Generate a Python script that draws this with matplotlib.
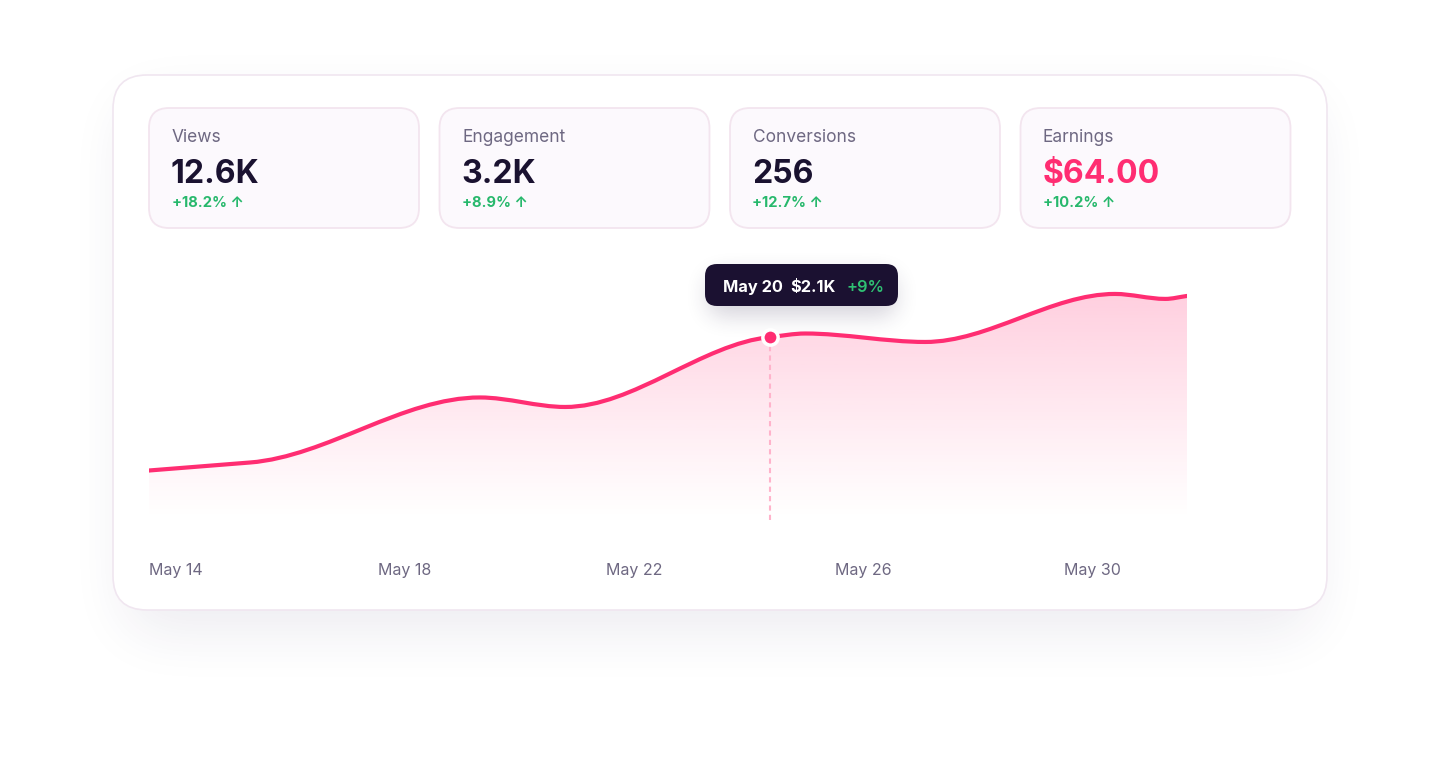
import numpy as np
import matplotlib.pyplot as plt
from matplotlib.patches import FancyBboxPatch, PathPatch
from matplotlib.path import Path

plt.rcParams['font.family'] = ['Inter', 'DejaVu Sans']

# stat cards
stat_labels = ['Views', 'Engagement', 'Conversions', 'Earnings']
stat_values = ['12.6K', '3.2K', '256', '$64.00']
stat_changes = ['+18.2%', '+8.9%', '+12.7%', '+10.2%']

# earnings curve (x = days after May 14, y = $K)
days = [0.0, 1.77, 5.79, 7.28, 10.87, 11.48, 13.58, 16.90, 17.78, 18.16]
earnings_k = [0.568, 0.660, 1.406, 1.297, 2.100, 2.140, 2.043, 2.594, 2.537, 2.571]
tick_days = [0, 4, 8, 12, 16]
tick_labels = ['May 14', 'May 18', 'May 22', 'May 26', 'May 30']

hl_index = 4
tooltip_date = 'May 20'
tooltip_value = '$2.1K'
tooltip_change = '+9%'

PINK = '#ff2d72'
GREEN = '#27b86c'
DARK = '#1a1230'
GREY = '#6e6882'
W, H = 1440, 761


def box_blur(a, r, axis):
    a = np.moveaxis(a, axis, -1)
    p = np.pad(a, [(0, 0), (r + 1, r)], mode='edge')
    c = np.cumsum(p, axis=-1)
    out = (c[:, 2 * r + 1:] - c[:, :-(2 * r + 1)]) / (2 * r + 1)
    return np.moveaxis(out, -1, axis)


def soft_shadow(x0, y0, x1, y1, rad, blur, passes=3):
    yy, xx = np.mgrid[0:H, 0:W] + 0.5
    cx, cy = (x0 + x1) / 2, (y0 + y1) / 2
    qx = np.maximum(np.abs(xx - cx) - ((x1 - x0) / 2 - rad), 0)
    qy = np.maximum(np.abs(yy - cy) - ((y1 - y0) / 2 - rad), 0)
    m = (np.hypot(qx, qy) <= rad).astype(float)
    for _ in range(passes):
        m = box_blur(m, blur, 0)
        m = box_blur(m, blur, 1)
    return m


def shadow_rgba(mask, rgb, alpha):
    img = np.zeros((H, W, 4))
    img[..., :3] = np.array(rgb) / 255
    img[..., 3] = mask * alpha
    return img


def smooth_path(x, y):
    # cubic hermite through the points, flat at turning points
    x = np.asarray(x, float)
    y = np.asarray(y, float)
    h = np.diff(x)
    d = np.diff(y) / h
    m = np.zeros_like(y)
    m[0], m[-1] = d[0], d[-1]
    for k in range(1, len(x) - 1):
        if d[k - 1] * d[k] > 0:
            m[k] = np.sign(d[k]) * min(abs(d[k - 1]), abs(d[k]))
    verts = [(x[0], y[0])]
    codes = [Path.MOVETO]
    for i in range(len(x) - 1):
        verts += [(x[i] + h[i] / 3, y[i] + m[i] * h[i] / 3),
                  (x[i + 1] - h[i] / 3, y[i + 1] - m[i + 1] * h[i] / 3),
                  (x[i + 1], y[i + 1])]
        codes += [Path.CURVE4] * 3
    return verts, codes


fig = plt.figure(figsize=(14.4, 7.61), dpi=100)
fig.patch.set_facecolor('white')

# background layer in pixel coordinates
bg = fig.add_axes([0, 0, 1, 1])
bg.set_xlim(0, W)
bg.set_ylim(H, 0)
bg.axis('off')

card_shadow = soft_shadow(125, 100, 1315, 632, 34, 26)
bg.imshow(shadow_rgba(card_shadow, (45, 35, 85), 0.085), extent=(0, W, H, 0),
          aspect='auto', zorder=0, interpolation='bilinear')

card = FancyBboxPatch((113, 75), 1214, 535, boxstyle='round,pad=0,rounding_size=34',
                      fc='white', ec='#f0e6f0', lw=1.2, zorder=1)
bg.add_patch(card)

for i, (lab, val, chg) in enumerate(zip(stat_labels, stat_values, stat_changes)):
    x0 = 149 + i * 290.5
    bg.add_patch(FancyBboxPatch((x0, 108), 270, 120, boxstyle='round,pad=0,rounding_size=20',
                                fc='#fcf9fd', ec='#f3e5ef', lw=1.3, zorder=2))
    bg.text(x0 + 22.5, 142.5, lab, fontsize=12.5, color=GREY, va='baseline', zorder=3)
    bg.text(x0 + 22, 182.7, val, fontsize=23, fontweight='bold', va='baseline',
            color=PINK if lab == 'Earnings' else DARK, zorder=3)
    bg.text(x0 + 22.5, 207.3, chg + ' \u2191', fontsize=10.6, fontweight='bold',
            color=GREEN, va='baseline', zorder=3)

# tooltip
tip_shadow = soft_shadow(708, 274, 896, 316, 14, 10)
bg.imshow(shadow_rgba(tip_shadow, (50, 40, 80), 0.2), extent=(0, W, H, 0),
          aspect='auto', zorder=4, interpolation='bilinear')
bg.add_patch(FancyBboxPatch((705, 264), 193, 42, boxstyle='round,pad=0,rounding_size=12',
                            fc='#1b1131', ec='none', zorder=5))
bg.text(722.7, 291.7, tooltip_date, fontsize=11.8, fontweight='bold', color='white',
        va='baseline', zorder=6)
bg.text(790.7, 291.7, tooltip_value, fontsize=11.8, fontweight='bold', color='white',
        va='baseline', zorder=6)
bg.text(846, 291.7, tooltip_change, fontsize=11.8, fontweight='semibold', color='#2fc073',
        va='baseline', zorder=6)

# chart area
ax = fig.add_axes([149 / W, (H - 520) / H, (1187 - 149) / W, 240 / H])
ax.patch.set_visible(False)
for s in ax.spines.values():
    s.set_visible(False)
ax.set_xlim(days[0], days[-1])
ax.set_ylim(0, 2.754)

verts, codes = smooth_path(days, earnings_k)
line_path = Path(verts, codes)
area_path = Path(verts + [(days[-1], 0), (days[0], 0), (days[0], earnings_k[0])],
                 codes + [Path.LINETO, Path.LINETO, Path.CLOSEPOLY])

grad = np.zeros((256, 1, 4))
grad[..., 0] = 1.0
grad[..., 1] = 46 / 255
grad[..., 2] = 116 / 255
grad[:, 0, 3] = np.linspace(0.28, 0.0, 256) ** 1.1
im = ax.imshow(grad, extent=(days[0], days[-1], 0, 2.754), aspect='auto',
               interpolation='bilinear', zorder=1)
im.set_clip_path(PathPatch(area_path, transform=ax.transData))

ax.add_patch(PathPatch(line_path, fc='none', ec=PINK, lw=3, capstyle='round', zorder=3))

xh, yh = days[hl_index], earnings_k[hl_index]
ax.plot([xh, xh], [0, yh], ls=(0, (2.5, 2)), color='#ffb3cb', lw=1.5, zorder=2)
ax.plot([xh], [yh], 'o', ms=11, mfc=PINK, mec='white', mew=2.5, zorder=4, clip_on=False)

ax.set_xticks(tick_days)
ax.set_xticklabels(tick_labels, ha='left', fontsize=11.5, color=GREY)
ax.set_yticks([])
ax.tick_params(axis='x', length=0, pad=31)

fig.savefig('out.png', dpi=100)
